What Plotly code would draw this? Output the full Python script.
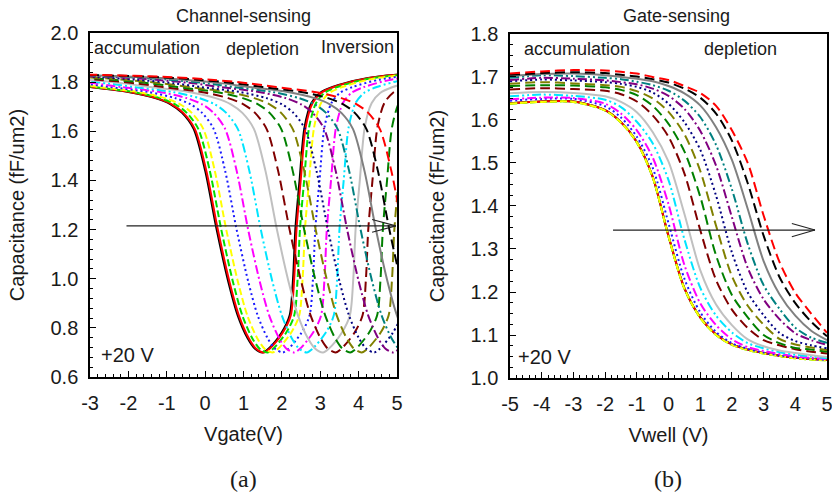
import plotly.graph_objects as go

W, H = 832, 494

# ---------------- Panel (a): Channel-sensing, C vs Vgate ----------------
# capacitance levels (fF/um2) shared by every curve of panel (a)
A_C = [1.832, 1.83, 1.82, 1.81, 1.795, 1.78, 1.76, 1.735, 1.71, 1.675, 1.61, 1.44,
       1.2, 0.99, 0.85, 0.76, 0.715, 0.70, 0.715, 0.78, 0.85, 1.0, 1.2,
       1.40, 1.617, 1.715, 1.756, 1.78, 1.81, 1.83, 1.832]
# gate voltage at which each curve passes the levels above
A_BLACK = [-8.7, -7.7, -5.7, -4.7, -3.7, -3.0, -2.0, -1.3, -0.9, -0.6, -0.3, 0.0, 0.3, 0.6, 0.85, 1.1, 1.3, 1.5, 1.65, 1.99, 2.2, 2.29, 2.35, 2.46, 2.59, 2.77, 2.99, 3.32, 4.02, 4.99, 5.8]
A_RED = [-8.67, -7.67, -5.67, -4.67, -3.67, -2.97, -1.97, -1.27, -0.87, -0.57, -0.27, 0.03, 0.33, 0.63, 0.88, 1.13, 1.33, 1.53, 1.68, 2.02, 2.23, 2.32, 2.38, 2.49, 2.62, 2.8, 3.02, 3.35, 4.05, 5.02, 5.83]
A_GREEN = [-8.58, -7.58, -5.58, -4.58, -3.58, -2.88, -1.88, -1.18, -0.78, -0.48, -0.18, 0.12, 0.42, 0.72, 0.97, 1.22, 1.42, 1.62, 1.77, 2.11, 2.32, 2.41, 2.47, 2.58, 2.71, 2.89, 3.11, 3.44, 4.14, 5.11, 5.92]
A_YELLOW = [-8.45, -7.45, -5.45, -4.45, -3.45, -2.75, -1.75, -1.05, -0.65, -0.35, -0.05, 0.25, 0.55, 0.85, 1.1, 1.35, 1.55, 1.75, 1.9, 2.24, 2.45, 2.54, 2.6, 2.71, 2.84, 3.02, 3.24, 3.57, 4.27, 5.24, 6.05]
A_BLUE = [-8.18, -7.18, -5.18, -4.18, -3.18, -2.48, -1.48, -0.78, -0.38, -0.08, 0.22, 0.52, 0.82, 1.12, 1.37, 1.62, 1.82, 2.02, 2.17, 2.51, 2.72, 2.81, 2.87, 2.98, 3.11, 3.29, 3.51, 3.84, 4.54, 5.51, 6.32]
A_MAGENTA = [-7.88, -6.88, -4.88, -3.88, -2.88, -2.18, -1.18, -0.48, -0.08, 0.22, 0.52, 0.82, 1.12, 1.42, 1.67, 1.92, 2.12, 2.32, 2.47, 2.81, 3.02, 3.11, 3.17, 3.28, 3.41, 3.59, 3.81, 4.14, 4.84, 5.81, 6.62]
A_CYAN = [-7.55, -6.55, -4.55, -3.55, -2.55, -1.85, -0.85, -0.15, 0.25, 0.55, 0.85, 1.15, 1.45, 1.75, 2.0, 2.25, 2.45, 2.65, 2.8, 3.14, 3.35, 3.44, 3.5, 3.61, 3.74, 3.92, 4.14, 4.47, 5.17, 6.14, 6.95]
A_LGRAY = [-7.13, -6.13, -4.13, -3.13, -2.13, -1.43, -0.43, 0.27, 0.67, 0.97, 1.27, 1.57, 1.87, 2.17, 2.42, 2.67, 2.87, 3.07, 3.22, 3.56, 3.77, 3.86, 3.92, 4.03, 4.16, 4.34, 4.56, 4.89, 5.59, 6.56, 7.37]
A_MAROON = [-6.8, -5.8, -3.8, -2.8, -1.8, -1.1, -0.1, 0.6, 1.0, 1.3, 1.6, 1.9, 2.2, 2.5, 2.75, 3.0, 3.2, 3.4, 3.55, 3.89, 4.1, 4.19, 4.25, 4.36, 4.49, 4.67, 4.89, 5.22, 5.92, 6.89, 7.7]
A_GREEN2 = [-6.42, -5.42, -3.42, -2.42, -1.42, -0.72, 0.28, 0.98, 1.38, 1.68, 1.98, 2.28, 2.58, 2.88, 3.13, 3.38, 3.58, 3.78, 3.93, 4.27, 4.48, 4.57, 4.63, 4.74, 4.87, 5.05, 5.27, 5.6, 6.3, 7.27, 8.08]
A_OLIVE = [-6.12, -5.12, -3.12, -2.12, -1.12, -0.42, 0.58, 1.28, 1.68, 1.98, 2.28, 2.58, 2.88, 3.18, 3.43, 3.68, 3.88, 4.08, 4.23, 4.57, 4.78, 4.87, 4.93, 5.04, 5.17, 5.35, 5.57, 5.9, 6.6, 7.57, 8.38]
A_NAVY = [-5.8, -4.8, -2.8, -1.8, -0.8, -0.1, 0.9, 1.6, 2.0, 2.3, 2.6, 2.9, 3.2, 3.5, 3.75, 4.0, 4.2, 4.4, 4.55, 4.89, 5.1, 5.19, 5.25, 5.36, 5.49, 5.67, 5.89, 6.22, 6.92, 7.89, 8.7]
A_PURPLE = [-5.3, -4.3, -2.3, -1.3, -0.3, 0.4, 1.4, 2.1, 2.5, 2.8, 3.1, 3.4, 3.7, 4.0, 4.25, 4.5, 4.7, 4.9, 5.05, 5.39, 5.6, 5.69, 5.75, 5.86, 5.99, 6.17, 6.39, 6.72, 7.42, 8.39, 9.2]
A_TEAL = [-4.95, -3.95, -1.95, -0.95, 0.05, 0.75, 1.75, 2.45, 2.85, 3.15, 3.45, 3.75, 4.05, 4.35, 4.6, 4.85, 5.05, 5.25, 5.4, 5.74, 5.95, 6.04, 6.1, 6.21, 6.34, 6.52, 6.74, 7.07, 7.77, 8.74, 9.55]
A_GRAY = [-4.55, -3.55, -1.55, -0.55, 0.45, 1.15, 2.15, 2.85, 3.25, 3.55, 3.85, 4.15, 4.45, 4.75, 5.0, 5.25, 5.45, 5.65, 5.8, 6.14, 6.35, 6.44, 6.5, 6.61, 6.74, 6.92, 7.14, 7.47, 8.17, 9.14, 9.95]
A_BLACK2 = [-4.2, -3.2, -1.2, -0.2, 0.8, 1.5, 2.5, 3.2, 3.6, 3.9, 4.2, 4.5, 4.8, 5.1, 5.35, 5.6, 5.8, 6.0, 6.15, 6.49, 6.7, 6.79, 6.85, 6.96, 7.09, 7.27, 7.49, 7.82, 8.52, 9.49, 10.3]
A_RED2 = [-3.85, -2.85, -0.85, 0.15, 1.15, 1.85, 2.85, 3.55, 3.95, 4.25, 4.55, 4.85, 5.15, 5.45, 5.7, 5.95, 6.15, 6.35, 6.5, 6.84, 7.05, 7.14, 7.2, 7.31, 7.44, 7.62, 7.84, 8.17, 8.87, 9.84, 10.65]

A_XTICKS = [-3, -2, -1, 0, 1, 2, 3, 4, 5]
A_XTEXT = ["-3", "-2", "-1", "0", "1", "2", "3", "4", "5"]
A_YTICKS = [0.6, 0.8, 1.0, 1.2, 1.4, 1.6, 1.8, 2.0]
A_YTEXT = ["0.6", "0.8", "1.0", "1.2", "1.4", "1.6", "1.8", "2.0"]

# ---------------- Panel (b): Gate-sensing, C vs Vwell ----------------
B_V = [-5, -4, -3, -2, -1.5, -1, -0.5, 0, 0.5, 1, 1.5, 2, 2.5, 3, 3.5, 4, 4.5, 5]
B_BLACK = [1.639, 1.643, 1.643, 1.623, 1.595, 1.549, 1.468, 1.330, 1.209, 1.141, 1.101, 1.078, 1.066, 1.058, 1.052, 1.047, 1.044, 1.042]
B_RED = [1.639, 1.643, 1.643, 1.623, 1.595, 1.549, 1.468, 1.330, 1.209, 1.141, 1.101, 1.078, 1.066, 1.058, 1.052, 1.047, 1.044, 1.042]
B_GREEN = [1.638, 1.642, 1.642, 1.622, 1.594, 1.548, 1.467, 1.329, 1.208, 1.140, 1.100, 1.077, 1.065, 1.057, 1.051, 1.046, 1.043, 1.041]
B_YELLOW = [1.638, 1.642, 1.642, 1.622, 1.594, 1.548, 1.467, 1.329, 1.208, 1.140, 1.100, 1.077, 1.065, 1.057, 1.051, 1.046, 1.043, 1.041]
B_BLUE = [1.645, 1.649, 1.649, 1.632, 1.606, 1.561, 1.489, 1.360, 1.231, 1.153, 1.107, 1.081, 1.068, 1.059, 1.053, 1.048, 1.045, 1.042]
B_MAGENTA = [1.648, 1.652, 1.651, 1.638, 1.615, 1.576, 1.513, 1.404, 1.263, 1.174, 1.123, 1.090, 1.072, 1.063, 1.056, 1.050, 1.047, 1.044]
B_CYAN = [1.655, 1.659, 1.656, 1.647, 1.630, 1.596, 1.546, 1.460, 1.323, 1.210, 1.145, 1.106, 1.081, 1.069, 1.060, 1.054, 1.050, 1.046]
B_LGRAY = [1.662, 1.665, 1.663, 1.655, 1.642, 1.618, 1.572, 1.503, 1.382, 1.251, 1.171, 1.123, 1.090, 1.074, 1.064, 1.058, 1.053, 1.049]
B_MAROON = [1.671, 1.674, 1.672, 1.668, 1.660, 1.643, 1.611, 1.561, 1.476, 1.344, 1.228, 1.159, 1.116, 1.088, 1.076, 1.067, 1.061, 1.057]
B_GREEN2 = [1.679, 1.681, 1.680, 1.676, 1.670, 1.658, 1.633, 1.591, 1.527, 1.422, 1.285, 1.193, 1.141, 1.100, 1.081, 1.070, 1.066, 1.061]
B_OLIVE = [1.684, 1.688, 1.685, 1.681, 1.677, 1.667, 1.650, 1.619, 1.567, 1.482, 1.354, 1.237, 1.168, 1.124, 1.091, 1.078, 1.071, 1.065]
B_NAVY = [1.690, 1.694, 1.692, 1.688, 1.684, 1.677, 1.664, 1.638, 1.595, 1.531, 1.424, 1.292, 1.199, 1.146, 1.105, 1.086, 1.076, 1.069]
B_PURPLE = [1.693, 1.698, 1.696, 1.692, 1.688, 1.683, 1.673, 1.656, 1.626, 1.575, 1.494, 1.374, 1.256, 1.183, 1.137, 1.104, 1.088, 1.077]
B_TEAL = [1.698, 1.704, 1.702, 1.698, 1.695, 1.689, 1.681, 1.668, 1.645, 1.607, 1.542, 1.439, 1.312, 1.216, 1.161, 1.117, 1.094, 1.082]
B_GRAY = [1.702, 1.707, 1.708, 1.704, 1.700, 1.696, 1.690, 1.679, 1.662, 1.634, 1.583, 1.507, 1.393, 1.272, 1.195, 1.145, 1.110, 1.088]
B_BLACK2 = [1.705, 1.709, 1.711, 1.709, 1.705, 1.701, 1.695, 1.687, 1.673, 1.652, 1.615, 1.552, 1.453, 1.331, 1.235, 1.174, 1.131, 1.097]
B_RED2 = [1.708, 1.713, 1.716, 1.715, 1.712, 1.708, 1.700, 1.693, 1.679, 1.663, 1.633, 1.576, 1.500, 1.378, 1.270, 1.198, 1.150, 1.105]

B_XTICKS = [-5, -4, -3, -2, -1, 0, 1, 2, 3, 4, 5]
B_XTEXT = ["-5", "-4", "-3", "-2", "-1", "0", "1", "2", "3", "4", "5"]
B_YTICKS = [1.0, 1.1, 1.2, 1.3, 1.4, 1.5, 1.6, 1.7, 1.8]
B_YTEXT = ["1.0", "1.1", "1.2", "1.3", "1.4", "1.5", "1.6", "1.7", "1.8"]

# sweep arrows (data coordinates)
A_ARROW = (-2.05, 4.97, 1.215)
B_ARROW = (-1.75, 4.62, 1.344)

# ---------------- styles ----------------
D1 = "7px,3px"
D2 = "10px,5px"
DOT = "2px,3px"
DDOT = "9px,3px,2px,3px"
DDDOT = "9px,3px,2px,3px,2px,3px"
SERIES = [
    ("#000000", "solid", A_BLACK, B_BLACK),
    ("#ff0000", "solid", A_RED, B_RED),
    ("#00dd00", D1, A_GREEN, B_GREEN),
    ("#ffff00", D1, A_YELLOW, B_YELLOW),
    ("#1a1aff", DOT, A_BLUE, B_BLUE),
    ("#ff00ff", DDOT, A_MAGENTA, B_MAGENTA),
    ("#00e5ff", DDDOT, A_CYAN, B_CYAN),
    ("#c0c0c0", "solid", A_LGRAY, B_LGRAY),
    ("#800000", D2, A_MAROON, B_MAROON),
    ("#008000", D2, A_GREEN2, B_GREEN2),
    ("#808000", D2, A_OLIVE, B_OLIVE),
    ("#000080", DOT, A_NAVY, B_NAVY),
    ("#800080", DDOT, A_PURPLE, B_PURPLE),
    ("#008080", DDDOT, A_TEAL, B_TEAL),
    ("#808080", "solid", A_GRAY, B_GRAY),
    ("#000000", D2, A_BLACK2, B_BLACK2),
    ("#ff0000", D2, A_RED2, B_RED2),
]

fig = go.Figure()
for color, dash, av, bc in SERIES:
    fig.add_trace(go.Scatter(x=av, y=A_C, mode="lines", xaxis="x", yaxis="y",
                             line=dict(color=color, dash=dash, width=2, shape="spline", smoothing=0.8),
                             showlegend=False, hoverinfo="skip"))
    fig.add_trace(go.Scatter(x=B_V, y=bc, mode="lines", xaxis="x2", yaxis="y2",
                             line=dict(color=color, dash=dash, width=2, shape="spline", smoothing=0.8),
                             showlegend=False, hoverinfo="skip"))

FONT = "Liberation Sans, Arial, sans-serif"
TICKFONT = dict(family=FONT, size=20, color="#1a1a1a")
TITLEFONT = dict(family=FONT, size=20, color="#1a1a1a")


def axis(domain, rng, tv, tt, minor_dt, title, standoff, anchor):
    return dict(domain=domain, range=rng, tickmode="array", tickvals=tv, ticktext=tt,
                ticks="inside", ticklen=6, tickwidth=1.2, tickcolor="black",
                minor=dict(dtick=minor_dt, tick0=rng[0], ticks="inside", ticklen=3,
                           tickcolor="black", tickwidth=1),
                showline=True, linecolor="black", linewidth=1.5, mirror=True,
                showgrid=False, zeroline=False, tickfont=TICKFONT,
                ticklabeloverflow="allow",
                title=dict(text=title, font=TITLEFONT, standoff=standoff),
                anchor=anchor, automargin=False)


fig.update_layout(
    width=W, height=H, margin=dict(l=0, r=0, t=0, b=0),
    paper_bgcolor="white", plot_bgcolor="white",
    xaxis=axis([0.1082, 0.4772], [-3, 5], A_XTICKS, A_XTEXT, 0.2, "Vgate(V)", 14, "y"),
    yaxis=axis([0.2368, 0.9332], [0.6, 2.0], A_YTICKS, A_YTEXT, 0.04, "Capacitance (fF/um2)", 20, "x"),
    xaxis2=axis([0.613, 0.994], [-5, 5], B_XTICKS, B_XTEXT, 0.2, "Vwell (V)", 14, "y2"),
    yaxis2=axis([0.2348, 0.9312], [1.0, 1.8], B_YTICKS, B_YTEXT, 0.025, "Capacitance (fF/um2)", 20, "x2"),
)
fig.update_xaxes(ticklabelstandoff=7)
fig.update_yaxes(ticklabelstandoff=6)

# arrows drawn as thin lines with an open head
shapes = []
for (x0, x1, yv, xr, yr, hx, hy) in [
        (A_ARROW[0], A_ARROW[1], A_ARROW[2], "x", "y", 0.62, 0.026),
        (B_ARROW[0], B_ARROW[1], B_ARROW[2], "x2", "y2", 0.73, 0.0155)]:
    ln = dict(color="#222222", width=1.1)
    shapes.append(dict(type="line", xref=xr, yref=yr, x0=x0, x1=x1, y0=yv, y1=yv, line=ln))
    shapes.append(dict(type="line", xref=xr, yref=yr, x0=x1 - hx, x1=x1, y0=yv + hy, y1=yv, line=ln))
    shapes.append(dict(type="line", xref=xr, yref=yr, x0=x1 - hx, x1=x1, y0=yv - hy, y1=yv, line=ln))
fig.update_layout(shapes=shapes)


def txt(text, x, y, size, xanchor="center", family=FONT):
    return dict(text=text, x=x, y=y, xref="paper", yref="paper", showarrow=False,
                xanchor=xanchor, yanchor="middle", font=dict(family=family, size=size, color="#1a1a1a"))


SERIF = "Liberation Serif, Times New Roman, serif"
fig.update_layout(annotations=[
    txt("Channel-sensing", 243 / W, 1 - 16 / H, 18),
    txt("Gate-sensing", 676 / W, 1 - 16 / H, 18),
    txt("accumulation", 92 / W, 1 - 48 / H, 18, "left"),
    txt("depletion", 262 / W, 1 - 49 / H, 18),
    txt("Inversion", 357 / W, 1 - 47 / H, 18),
    txt("accumulation", 522 / W, 1 - 49 / H, 18, "left"),
    txt("depletion", 740 / W, 1 - 49 / H, 18),
    txt("+20 V", 99 / W, 1 - 355 / H, 20, "left"),
    txt("+20 V", 516 / W, 1 - 357 / H, 20, "left"),
    txt("(a)", 243 / W, 1 - 479 / H, 24, "center", SERIF),
    txt("(b)", 668 / W, 1 - 479 / H, 24, "center", SERIF),
])

fig.write_html("out.html")
